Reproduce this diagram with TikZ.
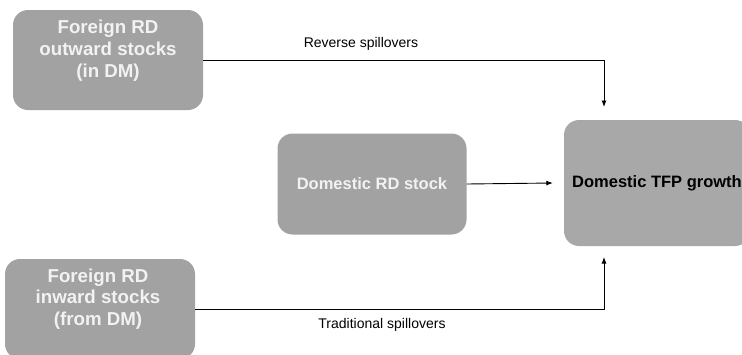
\documentclass[tikz,border=0pt]{standalone}
\usepackage{fontspec}
\setmainfont{Liberation Sans}
\usetikzlibrary{arrows.meta}
\definecolor{boxgray}{HTML}{A2A2A2}
\definecolor{tfpgray}{HTML}{A8A8A8}
\definecolor{boxtext}{HTML}{F2F2F2}
\begin{document}
\begin{tikzpicture}[x=1pt, y=-1pt,
  box/.style={fill=boxgray, rounded corners=15pt, minimum width=190pt, minimum height=100pt, inner sep=0pt},
  boxtxt/.style={align=center, text=boxtext, font=\fontsize{18.7}{21.7}\selectfont\bfseries},
  lbl/.style={font=\fontsize{14}{16}\selectfont},
  conn/.style={line width=0.9pt, -{Latex[length=6.5pt,width=5pt]}}]
\useasboundingbox (0,0) rectangle (742,354);

% Boxes
\node[box] (outward) at (108,60) {};
\node[boxtxt] (outwardtxt) at ([yshift=9.5]outward.center) {Foreign RD\\outward stocks\\(in DM)};
\node[box] (inward) at (100,309) {};
\node[boxtxt] (inwardtxt) at ([xshift=-2,yshift=10]inward.center) {Foreign RD\\inward stocks\\(from DM)};
\node[box, minimum width=189pt, minimum height=101pt, font=\fontsize{16.5}{22}\selectfont\bfseries, text=boxtext] (domestic) at (372,184) {Domestic RD stock};
\node[box, fill=tfpgray, minimum width=186pt, minimum height=126pt, font=\fontsize{16.5}{22}\selectfont\bfseries] (tfp) at (657,183) {Domestic TFP growth};

% Arrows
\coordinate (topend) at (604,107);
\coordinate (botend) at (604,257);
\draw[conn] (outward.east) -| (topend);
\draw[conn] (domestic.east) -- ([xshift=-11]tfp.west);
\draw[conn] (inward.east) -| (botend);

% Labels
\node[lbl] (revlbl) at (361,44) {Reverse spillovers};
\node[lbl] (tradlbl) at (382,325) {Traditional spillovers};
\end{tikzpicture}
\end{document}
